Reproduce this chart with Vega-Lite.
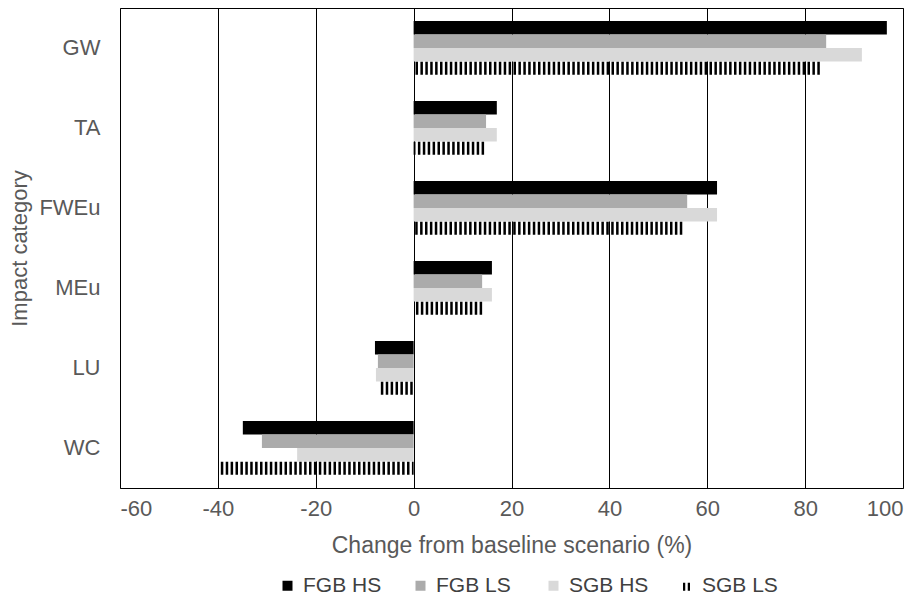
{
  "$schema": "https://vega.github.io/schema/vega-lite/v6.json",
  "width": 783,
  "height": 480,
  "autosize": {"type": "none"},
  "padding": {"left": 120, "top": 8, "right": 19, "bottom": 110},
  "background": "white",
  "config": {
    "font": "Liberation Sans",
    "view": {"stroke": "black", "strokeWidth": 1},
    "axis": {"labelColor": "#595959", "titleColor": "#595959", "labelFont": "Liberation Sans", "titleFont": "Liberation Sans", "titleFontWeight": "normal"}
  },
  "data": {
    "values": [
      {"cat": "GW", "series": "FGB HS", "value": 96.7},
      {"cat": "GW", "series": "FGB LS", "value": 84.3},
      {"cat": "GW", "series": "SGB HS", "value": 91.6},
      {"cat": "GW", "series": "SGB LS", "value": 83.0},
      {"cat": "TA", "series": "FGB HS", "value": 17.0},
      {"cat": "TA", "series": "FGB LS", "value": 14.8},
      {"cat": "TA", "series": "SGB HS", "value": 17.0},
      {"cat": "TA", "series": "SGB LS", "value": 14.4},
      {"cat": "FWEu", "series": "FGB HS", "value": 62.0},
      {"cat": "FWEu", "series": "FGB LS", "value": 55.9},
      {"cat": "FWEu", "series": "SGB HS", "value": 62.0},
      {"cat": "FWEu", "series": "SGB LS", "value": 54.9},
      {"cat": "MEu", "series": "FGB HS", "value": 16.0},
      {"cat": "MEu", "series": "FGB LS", "value": 14.0},
      {"cat": "MEu", "series": "SGB HS", "value": 16.0},
      {"cat": "MEu", "series": "SGB LS", "value": 14.0},
      {"cat": "LU", "series": "FGB HS", "value": -7.9},
      {"cat": "LU", "series": "FGB LS", "value": -7.3},
      {"cat": "LU", "series": "SGB HS", "value": -7.7},
      {"cat": "LU", "series": "SGB LS", "value": -6.7},
      {"cat": "WC", "series": "FGB HS", "value": -34.9},
      {"cat": "WC", "series": "FGB LS", "value": -31.0},
      {"cat": "WC", "series": "SGB HS", "value": -23.8},
      {"cat": "WC", "series": "SGB LS", "value": -39.4}
    ]
  },
  "encoding": {
    "y": {
      "field": "cat", "type": "nominal", "sort": ["GW", "TA", "FWEu", "MEu", "LU", "WC"],
      "scale": {"paddingInner": 0.325, "paddingOuter": 0.1625},
      "axis": {"title": "Impact category", "titleFontSize": 22, "labelFontSize": 22, "ticks": false, "domain": false, "labelPadding": 20, "titlePadding": 7}
    },
    "yOffset": {"field": "series", "type": "nominal", "scale": {"domain": ["FGB HS", "FGB LS", "SGB HS", "SGB LS"]}},
    "color": {
      "field": "series", "type": "nominal",
      "scale": {"domain": ["FGB HS", "FGB LS", "SGB HS", "SGB LS"], "range": ["#000000", "#ABABAB", "#D9D9D9", "#000000"]},
      "legend": {
        "title": null, "orient": "none", "legendX": 157, "legendY": 567, "direction": "horizontal", "columns": 4,
        "gridAlign": "all", "columnPadding": 27, "symbolType": "square", "symbolSize": 100, "symbolStrokeWidth": 0,
        "labelFontSize": 21, "labelColor": "#404040", "labelFont": "Liberation Sans", "labelOffset": 5,
        "encode": {"symbols": {"update": {"shape": {"signal": "datum.value === 'SGB LS' ? 'M-0.7,-0.6V1H-0.25V-0.6Z M0.25,-0.6V1H0.7V-0.6Z' : 'square'"}}}}
      }
    }
  },
  "layer": [
    {
      "transform": [{"filter": "datum.series !== 'SGB LS'"}],
      "mark": {"type": "bar", "orient": "horizontal"},
      "encoding": {
        "x": {
          "field": "value", "type": "quantitative",
          "scale": {"domain": [-60, 100], "nice": false},
          "axis": {"title": "Change from baseline scenario (%)", "titleFontSize": 23, "labelFontSize": 22, "values": [-60, -40, -20, 0, 20, 40, 60, 80, 100], "labelExpr": "'' + datum.value", "grid": true, "gridColor": "black", "gridOpacity": 1, "gridWidth": 1, "ticks": false, "domain": false, "labelPadding": 10, "titlePadding": 15}
        },
        "x2": {"datum": 0}
      }
    },
    {
      "transform": [{"filter": "datum.series === 'SGB LS'"}],
      "mark": {"type": "rule", "strokeWidth": 13, "strokeDash": [2.5, 2.4]},
      "encoding": {
        "x": {"field": "value", "type": "quantitative"},
        "x2": {"datum": 0}
      }
    }
  ]
}
